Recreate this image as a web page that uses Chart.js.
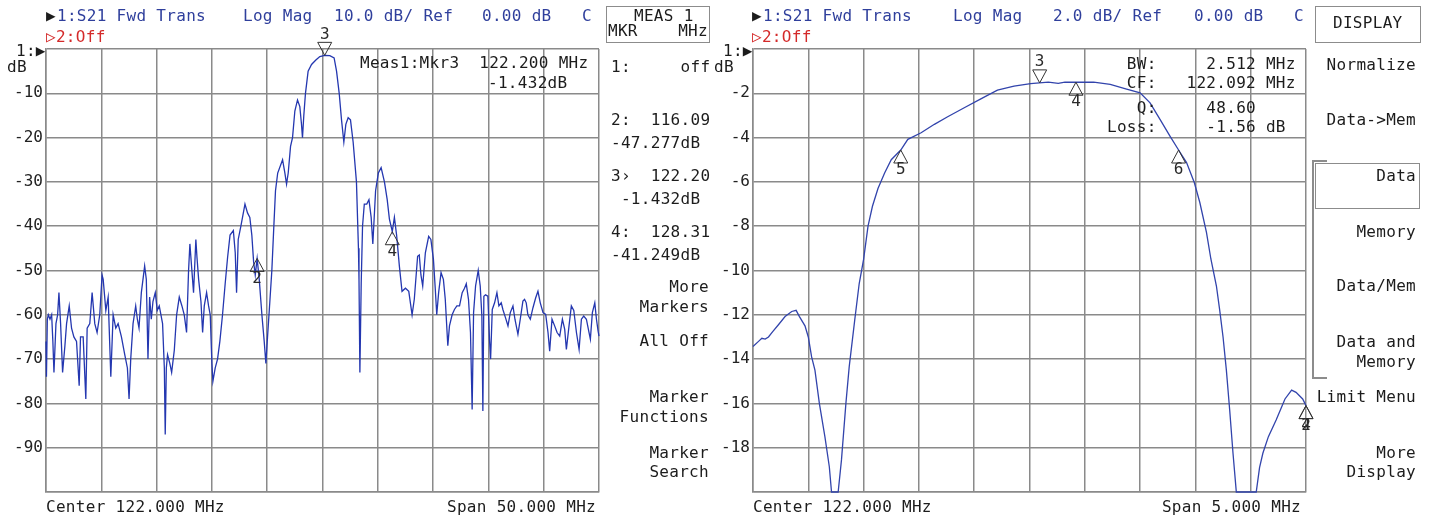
<!DOCTYPE html>
<html><head><meta charset="utf-8">
<script src="https://cdn.jsdelivr.net/npm/chart.js@4.4.1/dist/chart.umd.min.js"></script>
<style>
html,body{margin:0;padding:0;background:#fff;}
#wrap{position:relative;width:1429px;height:517px;overflow:hidden;background:#fff;}
canvas{position:absolute;top:0;}
.t{position:absolute;font-family:'DejaVu Sans Mono',monospace;font-size:16px;line-height:18px;white-space:pre;color:#1c1c1c;letter-spacing:0.3px;}
.b{color:#2f3f9c;}
.r{color:#d42a2a;}
.box{position:absolute;border:1.5px solid #8c8c8c;box-sizing:border-box;}
.ln{position:absolute;background:#8c8c8c;}
</style></head><body>
<div id="wrap">
<canvas id="c1" width="700" height="517" style="left:0;width:700px;height:517px"></canvas>
<canvas id="c2" width="729" height="517" style="left:700px;width:729px;height:517px"></canvas>

<!-- left header -->
<div class="t" style="left:46px;top:7px">▶</div>
<div class="t b" style="left:57px;top:7px">1:S21 Fwd Trans</div>
<div class="t b" style="left:243px;top:7px">Log Mag</div>
<div class="t b" style="left:334px;top:7px">10.0 dB/ Ref</div>
<div class="t b" style="left:482px;top:7px">0.00 dB</div>
<div class="t b" style="left:582px;top:7px">C</div>
<div class="t r" style="left:46px;top:28px">▷2:Off</div>
<div class="t" style="left:16px;top:42px">1:▶</div>
<div class="t" style="left:7px;top:58px">dB</div>
<div class="t" style="left:360px;top:54px">Meas1:Mkr3  122.200 MHz</div>
<div class="t" style="left:488px;top:74px">-1.432dB</div>
<div class="t" style="left:46px;top:498px">Center 122.000 MHz</div>
<div class="t" style="right:833px;top:498px">Span 50.000 MHz</div>

<!-- left side panel -->
<div class="box" style="left:606px;top:6px;width:104px;height:37px"></div>
<div class="t" style="left:634px;top:7px">MEAS 1</div>
<div class="t" style="left:608px;top:22px">MKR</div>
<div class="t" style="right:721px;top:22px">MHz</div>
<div class="t" style="left:611px;top:58px">1:     off</div>
<div class="t" style="left:611px;top:111px">2:  116.09</div>
<div class="t" style="left:611px;top:134px">-47.277dB</div>
<div class="t" style="left:611px;top:167px">3›  122.20</div>
<div class="t" style="left:611px;top:190px"> -1.432dB</div>
<div class="t" style="left:611px;top:223px">4:  128.31</div>
<div class="t" style="left:611px;top:246px">-41.249dB</div>
<div class="t" style="right:720px;top:278px">More</div>
<div class="t" style="right:720px;top:298px">Markers</div>
<div class="t" style="right:720px;top:332px">All Off</div>
<div class="t" style="right:720px;top:388px">Marker</div>
<div class="t" style="right:720px;top:408px">Functions</div>
<div class="t" style="right:720px;top:444px">Marker</div>
<div class="t" style="right:720px;top:463px">Search</div>

<!-- right header -->
<div class="t" style="left:752px;top:7px">▶</div>
<div class="t b" style="left:763px;top:7px">1:S21 Fwd Trans</div>
<div class="t b" style="left:953px;top:7px">Log Mag</div>
<div class="t b" style="left:1053px;top:7px">2.0 dB/ Ref</div>
<div class="t b" style="left:1194px;top:7px">0.00 dB</div>
<div class="t b" style="left:1294px;top:7px">C</div>
<div class="t r" style="left:752px;top:28px">▷2:Off</div>
<div class="t" style="left:723px;top:42px">1:▶</div>
<div class="t" style="left:714px;top:58px">dB</div>
<div class="t" style="left:1107px;top:55px">  BW:     2.512 MHz</div>
<div class="t" style="left:1107px;top:74px">  CF:   122.092 MHz</div>
<div class="t" style="left:1107px;top:99px">   Q:     48.60</div>
<div class="t" style="left:1107px;top:118px">Loss:     -1.56 dB</div>
<div class="t" style="left:753px;top:498px">Center 122.000 MHz</div>
<div class="t" style="right:128px;top:498px">Span 5.000 MHz</div>

<!-- right softkeys -->
<div class="box" style="left:1315px;top:6px;width:106px;height:37px"></div>
<div class="t" style="left:1333px;top:14px">DISPLAY</div>
<div class="t" style="right:13px;top:56px">Normalize</div>
<div class="t" style="right:13px;top:111px">Data-&gt;Mem</div>
<div class="ln" style="left:1312px;top:160px;width:1.5px;height:218px"></div>
<div class="ln" style="left:1312px;top:160px;width:15px;height:1.5px"></div>
<div class="ln" style="left:1312px;top:377px;width:15px;height:1.5px"></div>
<div class="box" style="left:1315px;top:163px;width:105px;height:46px"></div>
<div class="t" style="right:13px;top:167px">Data</div>
<div class="t" style="right:13px;top:223px">Memory</div>
<div class="t" style="right:13px;top:277px">Data/Mem</div>
<div class="t" style="right:13px;top:333px">Data and</div>
<div class="t" style="right:13px;top:353px">Memory</div>
<div class="t" style="right:13px;top:388px">Limit Menu</div>
<div class="t" style="right:13px;top:444px">More</div>
<div class="t" style="right:13px;top:463px">Display</div>
</div>

<script>
// ---------- data: left panel (span 50 MHz, 10 dB/div) ----------
const leftFreq = [
97.00,97.04,97.12,97.21,97.36,97.51,97.62,97.72,97.90,98.05,98.17,98.32,98.50,98.71,98.86,99.10,99.31,99.52,99.76,100.00,
100.12,100.36,100.60,100.72,100.96,101.17,101.41,101.62,101.86,102.07,102.17,102.41,102.62,102.86,103.07,103.31,103.52,103.82,104.12,104.36,
104.51,104.66,104.87,105.11,105.26,105.41,105.62,105.92,106.07,106.22,106.37,106.52,106.67,106.88,107.06,107.24,107.54,107.70,107.78,107.88,
107.99,108.20,108.36,108.60,108.81,109.05,109.29,109.50,109.71,109.89,110.01,110.19,110.34,110.55,110.65,110.80,111.01,111.16,111.31,111.52,
111.70,111.85,112.00,112.09,112.30,112.51,112.72,112.96,113.20,113.42,113.64,113.94,114.11,114.23,114.38,114.62,114.99,115.22,115.43,115.61,
115.77,115.92,116.09,116.28,116.52,116.73,116.88,117.03,117.24,117.42,117.60,117.75,117.95,118.39,118.60,118.75,118.90,119.11,119.29,119.50,
119.74,119.95,120.10,120.19,120.31,120.46,120.70,121.01,121.40,121.76,122.20,122.66,123.05,123.27,123.51,123.72,123.93,124.11,124.32,124.53,
124.77,125.07,125.25,125.30,125.38,125.50,125.62,125.78,126.00,126.20,126.40,126.55,126.80,127.05,127.30,127.60,127.85,128.05,128.31,128.50,
128.70,128.95,129.19,129.50,129.80,130.10,130.30,130.60,130.75,130.90,131.06,131.30,131.60,131.80,132.03,132.20,132.33,132.50,132.72,132.93,
133.10,133.33,133.48,133.72,133.93,134.15,134.39,134.63,134.84,135.00,135.20,135.38,135.53,135.66,135.84,136.08,136.26,136.41,136.50,136.59,
136.74,136.95,137.10,137.20,137.35,137.56,137.77,137.95,138.16,138.31,138.55,138.77,138.98,139.22,139.40,139.67,139.88,140.12,140.27,140.42,
140.57,140.79,141.03,141.27,141.48,141.69,141.94,142.18,142.39,142.54,142.75,142.99,143.21,143.45,143.69,143.90,144.05,144.29,144.50,144.72,
144.96,145.20,145.41,145.62,145.86,146.10,146.22,146.40,146.62,146.77,146.92,147.00];
const leftDb = [
-66,-74,-61,-60,-61,-60,-66,-73,-62,-60,-55,-62,-73,-67,-62,-58,-63,-65,-66,-76,
-65,-65,-79,-63,-62,-55,-62,-64,-60,-51,-52,-59,-56,-74,-60,-63,-62,-65,-69,-72,
-79,-70,-62,-58,-61,-63,-55,-49,-52,-70,-56,-61,-57,-55,-59,-58,-62,-72,-87,-72,
-69,-71,-73,-68,-60,-56,-58,-60,-64,-50,-44,-50,-55,-43,-47,-52,-57,-64,-58,-55,
-58,-60,-71,-75,-72,-70,-66,-60,-53,-47,-42,-41,-46,-55,-43,-40,-35,-37,-38,-42,
-48,-51,-47.3,-52,-60,-66,-71,-65,-57,-50,-40,-32,-28,-25,-28,-30.5,-28,-22,-20,-14,
-11.5,-13,-17,-20,-15,-10,-5,-3.5,-2.5,-1.7,-1.43,-1.5,-2,-5,-10,-16,-21,-17,-15.5,-16,
-21,-30,-45,-52,-73,-52.8,-40,-35,-35,-34,-38,-44,-32,-28,-26.8,-30,-34,-38.4,-41.2,-38,
-42,-49,-54.7,-54,-54.7,-60,-56.5,-46.8,-46.5,-51,-53.5,-46,-42.3,-43,-47.5,-54.3,-60,-55,-50.5,-52,
-56.5,-67,-62.5,-60,-58.8,-58,-58,-55,-54,-53,-56.5,-64,-81.4,-59.5,-53.5,-50,-53.5,-60.3,-81.7,-55.8,
-55.5,-55.8,-65.6,-70,-58.8,-57.3,-55,-58,-57.3,-58.8,-60.7,-62.5,-59.5,-58,-61,-64.4,-61,-56.9,-56.5,-57.3,
-60,-61,-58.4,-56.2,-54.7,-57.3,-59.5,-59.9,-64,-68.2,-61,-62.5,-64,-64.8,-61,-63.3,-67.8,-62.5,-58,-59,
-64,-67.8,-61,-60.3,-61,-64,-65.5,-59.5,-57.3,-61,-63.7,-64.8];

// ---------- data: right panel (span 5 MHz, 2 dB/div) ----------
const rightFreq = [
119.50,119.55,119.58,119.61,119.64,119.68,119.73,119.79,119.85,119.89,119.92,119.97,120.00,120.03,120.06,120.10,120.15,120.19,120.21,120.27,
120.30,120.34,120.37,120.42,120.46,120.50,120.54,120.58,120.63,120.69,120.75,120.836,120.90,121.02,121.14,121.26,121.41,121.56,121.71,121.86,
122.01,122.09,122.17,122.26,122.32,122.42,122.58,122.73,122.87,123.00,123.09,123.18,123.27,123.348,123.42,123.49,123.54,123.60,123.64,123.69,
123.72,123.75,123.78,123.81,123.84,123.87,124.05,124.08,124.11,124.16,124.23,124.31,124.37,124.41,124.47,124.50];
const rightDb = [
-13.43,-13.2,-13.06,-13.1,-13.0,-12.75,-12.45,-12.08,-11.85,-11.8,-12.08,-12.5,-13.0,-13.9,-14.5,-16.0,-17.5,-18.86,-20,-20,
-18.55,-16.0,-14.34,-12.23,-10.6,-9.5,-8.0,-7.1,-6.3,-5.6,-5.0,-4.56,-4.08,-3.78,-3.4,-3.06,-2.65,-2.25,-1.86,-1.68,
-1.56,-1.53,-1.5,-1.55,-1.5,-1.5,-1.5,-1.6,-1.8,-1.98,-2.43,-3.18,-3.93,-4.56,-5.13,-6.03,-6.93,-8.28,-9.48,-10.7,
-11.8,-13.0,-14.5,-16.3,-18.25,-20,-20,-18.9,-18.25,-17.5,-16.75,-15.8,-15.4,-15.5,-15.8,-16.1];

// ---------- axes ----------
const leftXTicks = [97,102,107,112,117,122,127,132,137,142,147];
const leftYTicks = [0,-10,-20,-30,-40,-50,-60,-70,-80,-90,-100];
const rightXTicks = [119.5,120,120.5,121,121.5,122,122.5,123,123.5,124,124.5];
const rightYTicks = [0,-2,-4,-6,-8,-10,-12,-14,-16,-18,-20];

// ---------- markers ----------
const leftMkrFreq = [122.2, 116.09, 128.31];
const leftMkrDb = [-1.432, -47.277, -41.249];
const leftMkrLabel = ['3', '2', '4'];
const leftMkrDir = ['down', 'up', 'up'];
const rightMkrFreq = [122.092, 122.42, 120.836, 123.348, 124.5, 124.5];
const rightMkrDb = [-1.53, -1.5, -4.56, -4.56, -16.1, -16.1];
const rightMkrLabel = ['3', '4', '5', '6', '2', '4'];
const rightMkrDir = ['down', 'up', 'up', 'up', 'up', 'up'];

const GRID = '#8a8a8a';
const FONT = "'DejaVu Sans Mono', monospace";

const markerPlugin = {
  id: 'mkr',
  afterDatasetsDraw(chart, args, o) {
    const ctx = chart.ctx, x = chart.scales.x, y = chart.scales.y;
    ctx.save();
    ctx.strokeStyle = '#333';
    ctx.lineWidth = 1;
    ctx.fillStyle = '#2a2a2a';
    ctx.font = '16px ' + FONT;
    ctx.textAlign = 'center';
    ctx.textBaseline = 'middle';
    o.f.forEach((f, i) => {
      const px = x.getPixelForValue(f), py = y.getPixelForValue(o.db[i]);
      const up = o.dir[i] === 'up', h = 13, w = 7;
      ctx.beginPath();
      ctx.moveTo(px, py);
      ctx.lineTo(px - w, up ? py + h : py - h);
      ctx.lineTo(px + w, up ? py + h : py - h);
      ctx.closePath();
      ctx.stroke();
      ctx.fillText(o.lab[i], px, up ? py + h + 7 : py - h - 8);
    });
    ctx.restore();
  }
};

function makeChart(id, freq, db, xt, yt, color, yW, padRight, mk) {
  const pts = freq.map((f, i) => ({x: f, y: db[i]}));
  return new Chart(document.getElementById(id), {
    type: 'line',
    data: {datasets: [{data: pts, borderColor: color, borderWidth: 1.3, pointRadius: 0, tension: 0, fill: false, clip: 3}]},
    plugins: [markerPlugin],
    options: {
      responsive: false, animation: false, devicePixelRatio: 1,
      layout: {padding: {top: 49, right: padRight, left: 0, bottom: 0}},
      plugins: {legend: {display: false}, tooltip: {enabled: false}, mkr: mk},
      scales: {
        x: {
          type: 'linear', min: xt[0], max: xt[xt.length - 1],
          afterBuildTicks: s => { s.ticks = xt.map(v => ({value: v})); },
          afterFit: s => { s.height = 25; },
          ticks: {display: false},
          grid: {color: GRID, lineWidth: 1.5, drawTicks: false},
          border: {color: GRID, width: 1.5}
        },
        y: {
          type: 'linear', min: yt[yt.length - 1], max: yt[0],
          afterBuildTicks: s => { s.ticks = yt.map(v => ({value: v})); },
          afterFit: s => { s.width = yW; },
          ticks: {
            padding: 3, color: '#222', font: {family: FONT, size: 16},
            callback: v => (v === yt[0] || v === yt[yt.length - 1]) ? '' : String(v)
          },
          grid: {color: GRID, lineWidth: 1.5, drawTicks: false},
          border: {color: GRID, width: 1.5}
        }
      }
    }
  });
}

makeChart('c1', leftFreq, leftDb, leftXTicks, leftYTicks, '#2437b0', 46, 101,
  {f: leftMkrFreq, db: leftMkrDb, lab: leftMkrLabel, dir: leftMkrDir});
makeChart('c2', rightFreq, rightDb, rightXTicks, rightYTicks, '#3244ac', 53, 123,
  {f: rightMkrFreq, db: rightMkrDb, lab: rightMkrLabel, dir: rightMkrDir});
</script>
</body></html>
